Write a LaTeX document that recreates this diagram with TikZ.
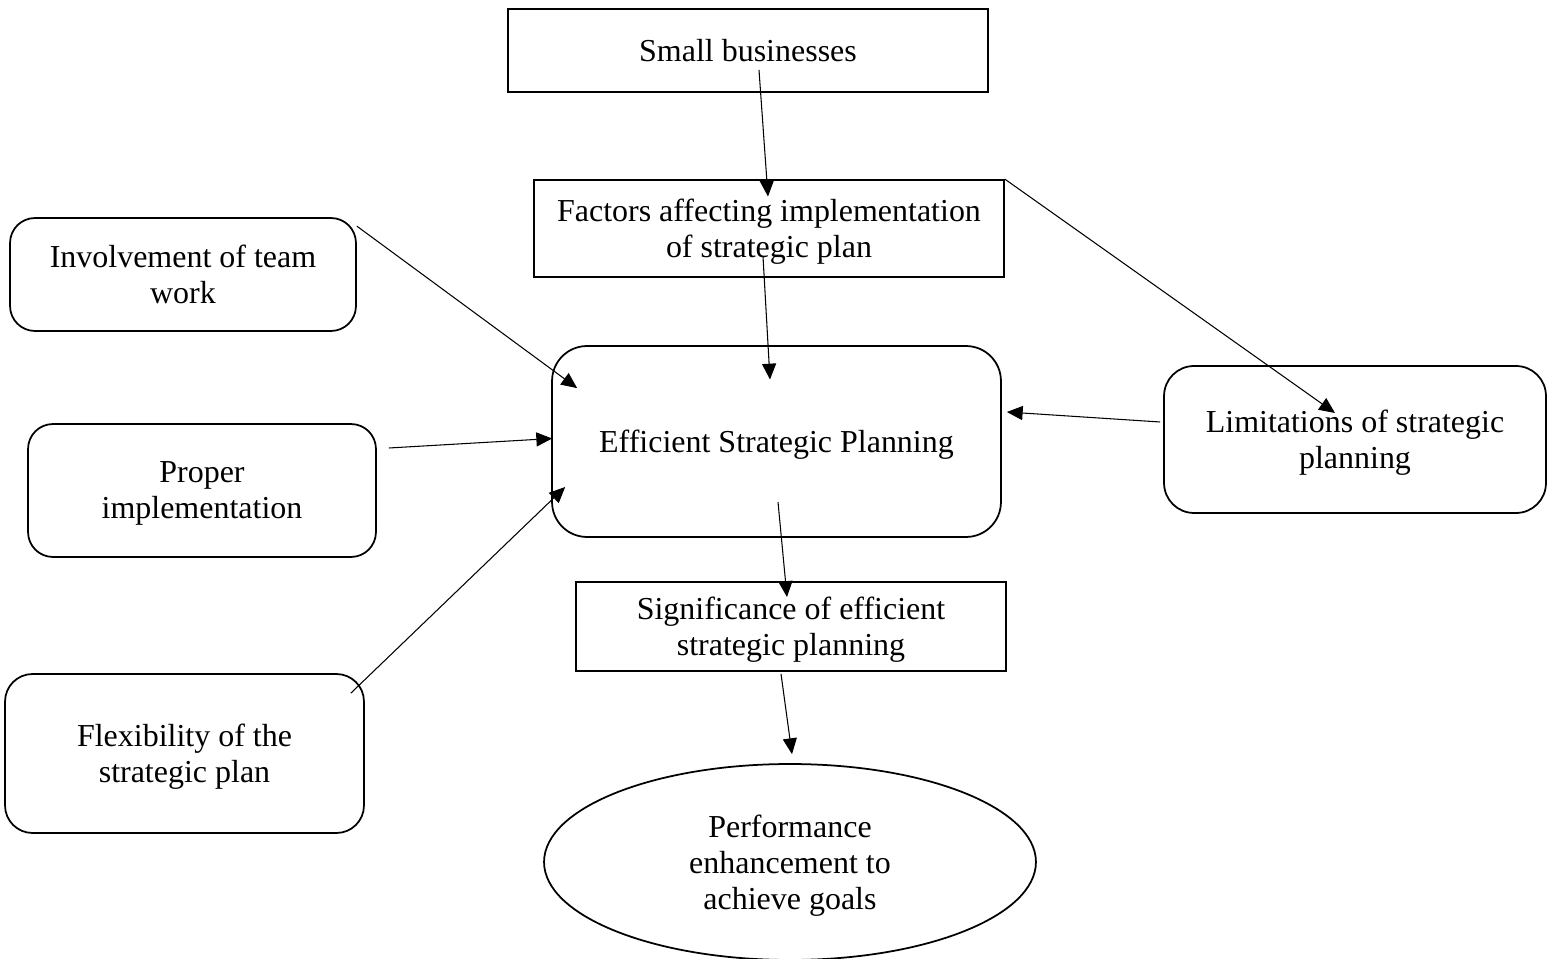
\documentclass[tikz,border=0pt]{standalone}
\usepackage{fontspec}
\setmainfont{Liberation Serif}
\usetikzlibrary{shapes.geometric,arrows.meta,calc}
\begin{document}
\begin{tikzpicture}[x=0.02cm,y=-0.02cm,
    font=\fontsize{18.2}{20.5}\selectfont,
    box/.style ={rectangle,draw,line width=1pt,align=center,inner sep=0pt,text depth=0pt},
    rbox/.style ={box,rounded corners=#1},
    rbox/.default=0.5cm,
    oval/.style ={ellipse,draw,line width=1pt,align=center,inner sep=0pt,text depth=0pt},
    link/.style ={-{Triangle[length=9pt,width=8pt]},line width=0.6pt}]
              \useasboundingbox (0,0) rectangle (1552,959);
              \node[box,minimum width=9.6cm,minimum height=1.66cm] (s) at (748,50.5) {Small businesses};
              \node[box,minimum width=9.4cm,minimum height=1.94cm] (f) at (769,228.5)
                {Factors affecting implementation\\of strategic plan};
              \node[rbox=0.7cm,minimum width=8.98cm,minimum height=3.82cm] (e) at (776.5,441.5)
                {Efficient Strategic Planning};
              \node[rbox=0.6cm,minimum width=7.64cm,minimum height=2.94cm] (l) at (1355,439.5)
                {Limitations of strategic\\planning};
              \node[rbox,minimum width=6.92cm,minimum height=2.26cm] (t) at (183,274.5)
                {Involvement of team\\work};
              \node[rbox,minimum width=6.96cm,minimum height=2.66cm] (p) at (202,490.5)
                {Proper\\implementation};
              \node[rbox=0.55cm,minimum width=7.18cm,minimum height=3.18cm] (x) at (184.5,753.5)
                {Flexibility of the\\strategic plan};
              \node[box,minimum width=8.6cm,minimum height=1.78cm] (g) at (791,626.5)
                {Significance of efficient\\strategic planning};
              \node[oval,minimum width=9.84cm,minimum height=3.92cm] (o) at (790,862)
                {Performance\\enhancement to\\achieve goals};

              \draw[link] ($(s.center)+(11,19.5)$) -- ($(f.center)+(-1,-32)$);
              \draw[link] ($(f.center)+(-6,28)$) -- ($(e.center)+(-6.5,-62)$);
              \draw[link] (f.north east) -- ($(l.center)+(-20,-26.5)$);
              \draw[link] ($(l.west)+(-3,-17.5)$) -- ($(e.east)+(5,-29.5)$);
              \draw[link] ($(t.north east)+(0,9)$) -- ($(e.north west)+(26,43)$);
              \draw[link] ($(p.east)+(12,-42.5)$) -- ($(e.west)+(1,-3)$);
              \draw[link] ($(x.north east)+(-14,20)$) -- ($(e.west)+(14,45.5)$);
              \draw[link] ($(e.center)+(1.5,60.5)$) -- ($(g.center)+(-4,-29.5)$);
              \draw[link] ($(g.south)+(-10,2)$) -- ($(o.north)+(2,-9)$);
            \end{tikzpicture}
\end{document}
